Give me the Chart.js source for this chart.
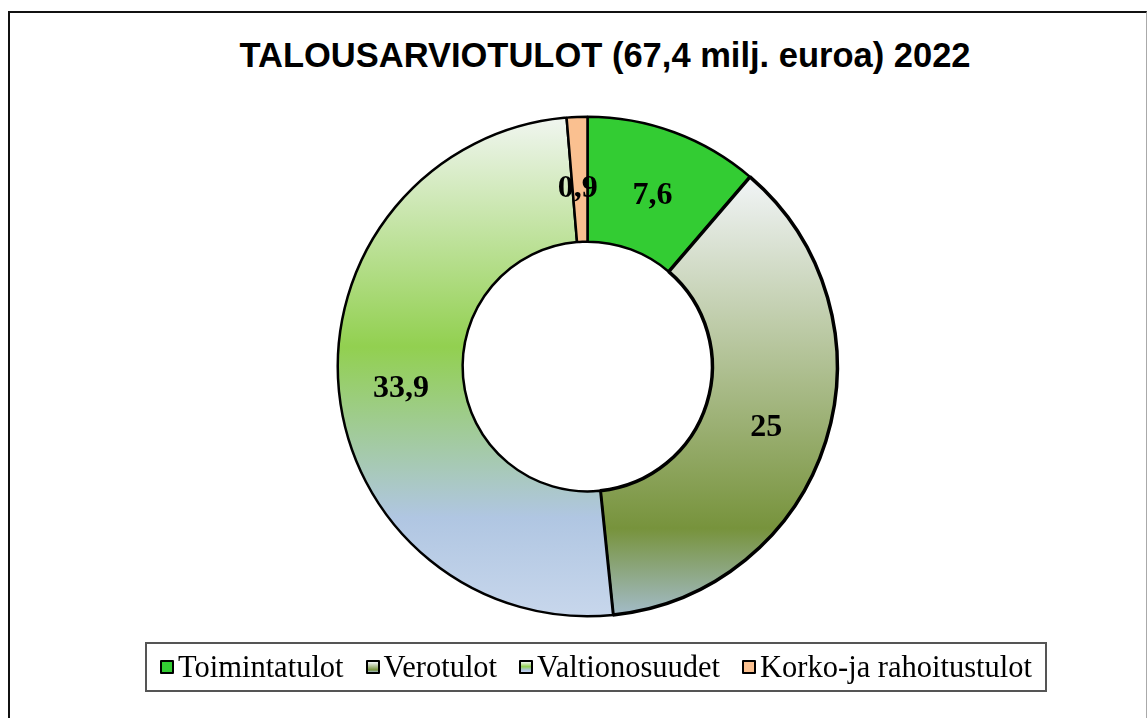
<!DOCTYPE html>
<html>
<head>
<meta charset="utf-8">
<script src="https://cdn.jsdelivr.net/npm/chart.js@4"></script>
<style>
  body { margin: 0; background: #fff; }
  #wrap { position: relative; width: 1147px; height: 718px; overflow: hidden; }
  #frame { position: absolute; left: 8px; top: 11px; width: 1136px; height: 720px;
           border-left: 2px solid #111; border-top: 2px solid #111; border-right: 1px solid #aaa; }
  #title { position: absolute; left: 155px; width: 900px; top: 36px; text-align: center;
           font: bold 34.5px "Liberation Sans", Arial, sans-serif; color: #000; }
  #legend { position: absolute; left: 145px; top: 642px; width: 898px; height: 46px;
            border: 2px solid #555; display: flex; align-items: center; justify-content: center;
            font: 30.5px "Liberation Serif", "Times New Roman", serif; color: #000; }
  .item { display: flex; align-items: center; margin: 0 11px; }
  .sw { width: 10px; height: 10px; border: 2px solid #000; border-radius: 1px; margin-right: 4px; }
  canvas { position: absolute; left: 0; top: 0; }
</style>
</head>
<body>
<div id="wrap">
  <div id="frame"></div>
  <div id="title"></div>
  <canvas id="chart" width="1147" height="718"></canvas>
  <div id="legend"></div>
</div>
<script>
const titleText = 'TALOUSARVIOTULOT (67,4 milj. euroa) 2022';
const labels = ['Toimintatulot', 'Verotulot', 'Valtionosuudet', 'Korko-ja rahoitustulot'];
const values = [7.6, 25, 33.9, 0.9];
const valueLabels = ['7,6', '25', '33,9', '0,9'];

// colour stops for each slice: [position, colour], top to bottom
const fills = [
    [[0, '#33cc33'], [1, '#33cc33']],
    [[0, '#f2f5f8'], [0.8, '#77933c'], [1, '#a4bccb']],
    [[0, '#f1f6f1'], [0.46, '#92d050'], [0.8, '#b0c6e2'], [1, '#c8d7ec']],
    [[0, '#fac090'], [1, '#fac090']]
];

document.getElementById('title').textContent = titleText;

const legend = document.getElementById('legend');
labels.forEach(function (name, i) {
    const item = document.createElement('div');
    item.className = 'item';
    const sw = document.createElement('span');
    sw.className = 'sw';
    sw.style.background = 'linear-gradient(to bottom, ' +
        fills[i].map(s => s[1] + ' ' + (s[0] * 100) + '%').join(', ') + ')';
    const txt = document.createElement('span');
    txt.textContent = name;
    item.appendChild(sw);
    item.appendChild(txt);
    legend.appendChild(item);
});

const total = values.reduce((a, b) => a + b, 0);

function sliceFill(context) {
    const chart = context.chart;
    const area = chart.chartArea;
    const i = context.dataIndex;
    if (!area) return fills[i][0][1];
    const cy = (area.top + area.bottom) / 2;
    const r = Math.min(area.width, area.height) / 2;
    // vertical extent of the slice's ring segment
    let start = 0;
    for (let k = 0; k < i; k++) start += values[k];
    const a0 = start / total * 2 * Math.PI;
    const a1 = (start + values[i]) / total * 2 * Math.PI;
    let top = Infinity, bottom = -Infinity;
    for (let s = 0; s <= 60; s++) {
        const a = a0 + (a1 - a0) * s / 60;
        [r, r / 2].forEach(function (rr) {
            const y = cy - rr * Math.cos(a);
            top = Math.min(top, y);
            bottom = Math.max(bottom, y);
        });
    }
    const g = chart.ctx.createLinearGradient(0, top, 0, bottom);
    fills[i].forEach(s => g.addColorStop(s[0], s[1]));
    return g;
}

const valueLabelPlugin = {
    id: 'valueLabels',
    afterDatasetsDraw(chart) {
        const ctx = chart.ctx;
        const meta = chart.getDatasetMeta(0);
        ctx.save();
        ctx.font = 'bold 32px "Liberation Serif", "Times New Roman", serif';
        ctx.fillStyle = '#000';
        ctx.textAlign = 'center';
        ctx.textBaseline = 'middle';
        meta.data.forEach(function (arc, i) {
            const p = arc.tooltipPosition();
            const dy = i === 3 ? 9 : 5;
            ctx.fillText(valueLabels[i], p.x - (i === 3 ? 2 : 0), p.y + dy);
        });
        ctx.restore();
    }
};

new Chart(document.getElementById('chart'), {
    type: 'doughnut',
    data: {
        labels: labels,
        datasets: [{
            data: values,
            backgroundColor: sliceFill,
            borderColor: '#000',
            borderWidth: [2.5, 3.5, 2.5, 2.5],
            hoverOffset: 0,
        }]
    },
    options: {
        responsive: false,
        animation: false,
        cutout: '50%',
        layout: { padding: { left: 336, right: 308, top: 115, bottom: 100 } },
        plugins: {
            legend: { display: false },
            tooltip: { enabled: false }
        }
    },
    plugins: [valueLabelPlugin]
});
</script>
</body>
</html>
